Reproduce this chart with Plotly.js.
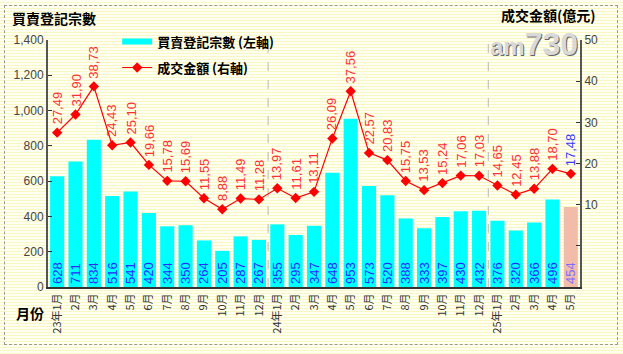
<!DOCTYPE html>
<html>
<head>
<meta charset="utf-8">
<script src="https://cdn.plot.ly/plotly-3.0.1.min.js"></script>
<style>
  html, body { margin: 0; padding: 0; }
  body {
    width: 623px; height: 354px; overflow: hidden;
    background: repeating-linear-gradient(to bottom, #fffff2 0px, #fffff2 2px, #fbf7c2 2px, #fbf7c2 3px);
  }
  #frame { position: absolute; left: 4px; top: 5px; width: 612px; height: 338px; border: 1px dashed #9a9a9a; pointer-events: none; }
  #chart { position: absolute; left: 0; top: 0; width: 623px; height: 354px; }
</style>
</head>
<body>
<div id="chart"></div>
<div id="frame"></div>
<script>
// ---- data ----
const monthLabels = [
  "23年1月","2月","3月","4月","5月","6月","7月","8月","9月","10月","11月","12月",
  "24年1月","2月","3月","4月","5月","6月","7月","8月","9月","10月","11月","12月",
  "25年1月","2月","3月","4月","5月"
];
const registrations = [628,711,834,516,541,420,344,350,264,205,287,267,
                       355,295,347,648,953,573,520,388,333,397,430,432,
                       376,320,366,496,454];
const turnover = [27.49,31.90,38.73,24.43,25.10,19.66,15.78,15.69,11.55,8.88,11.49,11.28,
                  13.97,11.61,13.11,26.09,37.56,22.57,20.83,15.75,13.53,15.24,17.06,17.03,
                  14.65,12.45,13.88,18.70,17.48];
const rightTicks = [0,10,20,30,40,50];
const rightTickText = ["","10","20","30","40","50"];

// ---- build ----
const idx = monthLabels.map((_, i) => i);
const lastI = idx.length - 1;
const num = "Liberation Sans, Arial, sans-serif";
const cjk = "Noto Sans CJK TC, Noto Sans CJK SC, sans-serif";

const barColors = idx.map(i => i === lastI ? "#f2bcab" : "#00ffff");
const barTextColors = idx.map(i => i === lastI ? "#7a6cff" : "#2a2aff");

const legendBar = {
  x: [null], y: [null], type: "scatter", mode: "lines",
  name: "買賣登記宗數 (左軸)", legendgroup: "a",
  line: { color: "#00ffff", width: 6 }, hoverinfo: "skip"
};
const bars = {
  x: idx, y: registrations, type: "bar", showlegend: false,
  marker: { color: barColors, line: { width: 0 } },
  text: registrations.map(String), textposition: "inside", insidetextanchor: "start",
  textangle: -90, constraintext: "none",
  textfont: { family: num, size: 13, color: barTextColors }
};
const line = {
  x: idx, y: turnover, type: "scatter", mode: "lines+markers", yaxis: "y2",
  name: "成交金額 (右軸)", legendgroup: "b",
  line: { color: "#ff0000", width: 1.2 },
  marker: { symbol: "diamond", size: 8, color: "#ff0000" }
};

const annotations = turnover.map((v, i) => ({
  x: i, y: v, xref: "x", yref: "y2", showarrow: false,
  text: v.toFixed(2).replace(".", ","), textangle: -90,
  yanchor: "bottom", xanchor: "center", yshift: 6,
  font: { family: num, size: 13, color: i === lastI ? "#3a3aff" : "#ff3030" }
}));
annotations.push(
  { xref: "paper", yref: "paper", x: -0.072, y: 1.089, xanchor: "left", yanchor: "middle", showarrow: false,
    text: "買賣登記宗數", font: { family: cjk, size: 14, color: "#000", weight: "bold" } },
  { xref: "paper", yref: "paper", x: 0.94, y: 1.1, xanchor: "center", yanchor: "middle", showarrow: false,
    text: "成交金額(億元)", font: { family: cjk, size: 14, color: "#000", weight: "bold" } },
  { xref: "paper", yref: "paper", x: -0.034, y: -0.105, xanchor: "center", yanchor: "middle", showarrow: false,
    text: "月份", font: { family: cjk, size: 14, color: "#000", weight: "bold" } },
  { xref: "paper", yref: "paper", x: 1.0, y: 0.985, xanchor: "right", yanchor: "middle", showarrow: false,
    text: '<span style="font-size:24px">am</span>730',
    font: { family: "Liberation Sans Narrow, Liberation Sans, Arial", size: 32, color: "#d9d9d9", weight: "bold",
            shadow: "1px 1px 0px #666" } }
);

// year separators at each "年" label (except the first)
const shapes = idx.filter(i => i > 0 && monthLabels[i].includes("年")).map(i => ({
  type: "line", xref: "x", yref: "paper", x0: i - 0.5, x1: i - 0.5, y0: 0, y1: 1,
  line: { color: "#b8b8b8", width: 1, dash: "dash" }, layer: "below"
}));

const layout = {
  width: 623, height: 354,
  margin: { l: 48, r: 43, t: 40, b: 67 },
  paper_bgcolor: "rgba(0,0,0,0)", plot_bgcolor: "rgba(0,0,0,0)",
  showlegend: true,
  legend: { x: 0.13, y: 1.054, xanchor: "left", yanchor: "top", bgcolor: "rgba(0,0,0,0)",
            font: { family: cjk, size: 13, color: "#000", weight: "bold" },
            itemwidth: 30, tracegroupgap: 6, traceorder: "grouped" },
  bargap: 0.23,
  xaxis: {
    range: [-0.5, lastI + 0.5], tickvals: idx, ticktext: monthLabels, tickangle: -90,
    showline: true, linecolor: "#333", linewidth: 2, ticks: "", showgrid: false, zeroline: false,
    tickfont: { family: cjk, size: 11, color: "#333" }, fixedrange: true
  },
  yaxis: {
    range: [0, 1400], dtick: 200, tickformat: ",d", showgrid: false, zeroline: false,
    showline: true, linecolor: "#555", linewidth: 2, ticks: "inside", ticklen: 4, tickcolor: "#333",
    tickfont: { family: num, size: 12, color: "#444" }
  },
  yaxis2: {
    overlaying: "y", side: "right", range: [-10, 50], tickvals: rightTicks, ticktext: rightTickText,
    showgrid: false, zeroline: false, showline: true, linecolor: "#555", linewidth: 2,
    ticks: "inside", ticklen: 4, tickcolor: "#333",
    tickfont: { family: num, size: 12, color: "#444" }
  },
  annotations: annotations,
  shapes: shapes
};

Plotly.newPlot("chart", [legendBar, bars, line], layout, { displayModeBar: false, staticPlot: true });
</script>
</body>
</html>
